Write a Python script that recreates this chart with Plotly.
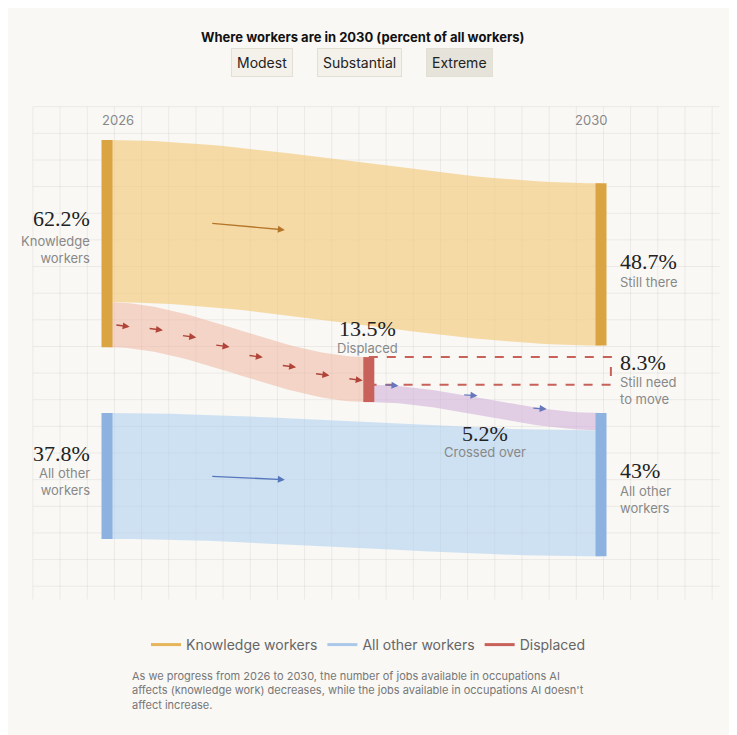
import numpy as np
import plotly.graph_objects as go

# ---- data (percent of all workers) ----
years = ["2026", "2030"]
knowledge_2026 = 62.2
other_2026 = 37.8
still_there = 48.7
displaced = 13.5
still_need_to_move = 8.3
crossed_over = 5.2
other_2030 = 43.0
scenarios = ["Modest", "Substantial", "Extreme"]

KC, KN = "rgba(242,200,118,0.62)", "#dba443"
BC, BN = "rgba(172,205,238,0.55)", "#8db2e0"
DC, DN = "rgba(238,182,160,0.55)", "#c8615a"
XC = "rgba(205,172,215,0.55)"

GAP = 19.8
X_MID = 0.53
kL = (0, knowledge_2026)
oL = (knowledge_2026 + GAP, knowledge_2026 + GAP + other_2026)
sR = (13.0, 13.0 + still_there)
dM = (sR[1] + 3.5, sR[1] + 3.5 + displaced)
nM = (dM[0], dM[0] + still_need_to_move)
cM = (nM[1], dM[1])
oR = (oL[0], oL[0] + other_2030)

fig = go.Figure()

gx, gy = [], []
for xv in np.arange(-0.15, 1.25, 0.055):
    gx += [xv, xv, None]; gy += [-10, 138, None]
for yv in np.arange(-10, 139, 8):
    gx += [-0.15, 1.24, None]; gy += [yv, yv, None]
fig.add_trace(go.Scatter(x=gx, y=gy, mode="lines", line=dict(color="rgba(0,0,0,0.06)", width=1),
                         hoverinfo="skip", showlegend=False))

t = np.linspace(0, 1, 40)
s = 3 * t**2 - 2 * t**3

def band(x0, x1, a, b, color):
    top = a[0] + (b[0] - a[0]) * s
    bot = a[1] + (b[1] - a[1]) * s
    xs = x0 + (x1 - x0) * t
    fig.add_trace(go.Scatter(x=np.r_[xs, xs[::-1]], y=np.r_[top, bot[::-1]], fill="toself",
                             fillcolor=color, line=dict(width=0), mode="lines",
                             hoverinfo="skip", showlegend=False))

band(0, 1, (0, still_there), sR, KC)
band(0, X_MID, (still_there, knowledge_2026), dM, DC)
band(0, 1, oL, (oR[0] + crossed_over, oR[1]), BC)
band(X_MID, 1, cM, (oR[0], oR[0] + crossed_over), XC)

fig.add_trace(go.Scatter(x=[X_MID, 1.02, 1.02, X_MID], y=[nM[0], nM[0], nM[1], nM[1]], mode="lines",
                         line=dict(color=DN, width=2, dash="dash"), hoverinfo="skip", showlegend=False))

def node(x, r, c):
    fig.add_trace(go.Scatter(x=[x, x], y=list(r), mode="lines", line=dict(color=c, width=11),
                             hoverinfo="skip", showlegend=False))
node(0, kL, KN); node(0, oL, BN); node(1, sR, KN); node(1, oR, BN); node(X_MID, dM, DN)

def arrow(x, y, dx, dy, c):
    fig.add_annotation(x=x + dx, y=y + dy, ax=x, ay=y, xref="x", yref="y", axref="x", ayref="y",
                       showarrow=True, arrowhead=2, arrowsize=1, arrowwidth=1.4, arrowcolor=c, text="")
arrow(0.21, 25, 0.15, 2, "#b5762a")
arrow(0.21, 101, 0.15, 1, "#5577bb")
for tt in np.linspace(0.03, 0.92, 8):
    ss = 3 * tt**2 - 2 * tt**3
    yc = (still_there + knowledge_2026) / 2 + ((dM[0] + dM[1]) / 2 - (still_there + knowledge_2026) / 2) * ss
    arrow(X_MID * tt, yc, 0.03, 0.6, "#b04438")
for xa, ya in [(0.56, 73.5), (0.72, 76.5), (0.86, 80.5)]:
    arrow(xa, ya, 0.03, 0.3, "#6677bb")

for name, c in [("Knowledge workers", "#e6b45a"), ("All other workers", "#a9c8ea"), ("Displaced", "#c8615a")]:
    fig.add_trace(go.Scatter(x=[None], y=[None], mode="lines", name=name, line=dict(color=c, width=3)))

def txt(x, y, text, size, color="#222", font="Liberation Serif", align="center", xanchor="center", yanchor="middle"):
    fig.add_annotation(x=x, y=y, xref="paper", yref="paper", text=text, showarrow=False, align=align,
                       font=dict(size=size, color=color, family=font), xanchor=xanchor, yanchor=yanchor)

W, H = 737.0, 735.0
OFF = 8
def P(px, py): return (px - OFF) / W, 1 - (py - OFF) / H
SANS = "Inter"
txt(*P(362, 37), "<b>Where workers are in 2030 (percent of all workers)</b>", 13, "#111", SANS)
for sc, px, bg in zip(scenarios, [262, 359, 459], ["#f3f1ea", "#f3f1ea", "#e5e3da"]):
    x, y = P(px, 72 - 24)
    fig.add_annotation(x=x, y=y, xref="paper", yref="paper", text=sc, showarrow=False,
                       font=dict(size=14, color="#222", family=SANS), bgcolor=bg, bordercolor="#e2dfd4",
                       borderwidth=1, borderpad=5)
txt(*P(118, 120), years[0], 13, "#888", SANS)
txt(*P(591, 120), years[1], 13, "#888", SANS)
G = "#888"
txt(*P(92, 218), f"{knowledge_2026}%", 22, "#222", xanchor="right")
txt(*P(92, 249), "Knowledge<br>workers", 13, G, SANS, "right", "right")
txt(*P(92, 453), f"{other_2026}%", 22, "#222", xanchor="right")
txt(*P(92, 482), "All other<br>workers", 13, G, SANS, "right", "right")
txt(*P(367, 328), f"{displaced}%", 22)
txt(*P(367, 348), "Displaced", 13, G, SANS)
txt(*P(618, 261), f"{still_there}%", 22, xanchor="left")
txt(*P(618, 282), "Still there", 13, G, SANS, "left", "left")
txt(*P(618, 362), f"{still_need_to_move}%", 22, xanchor="left")
txt(*P(618, 390), "Still need<br>to move", 13, G, SANS, "left", "left")
txt(*P(485, 433), f"{crossed_over}%", 22)
txt(*P(485, 452), "Crossed over", 13, G, SANS)
txt(*P(618, 470), f"{other_2030:g}%", 22, xanchor="left")
txt(*P(618, 499), "All other<br>workers", 13, G, SANS, "left", "left")
txt(*P(130, 690), "As we progress from 2026 to 2030, the number of jobs available in occupations AI<br>"
    "affects (knowledge work) decreases, while the jobs available in occupations AI doesn't<br>affect increase.",
    11, "#777", SANS, "left", "left")

# page offset of 8px: px = (107-8) + 494*x ; py = (140-8) + 3.33*y
X0, Y0 = 107 - OFF, 140 - OFF
fig.update_xaxes(range=[-X0 / 494, (W - X0) / 494], visible=False, fixedrange=True)
fig.update_yaxes(range=[(H - Y0) / 3.33, -Y0 / 3.33], visible=False, fixedrange=True)
fig.update_layout(width=737, height=735, margin=dict(l=0, r=0, t=0, b=0),
                  paper_bgcolor="#f9f8f5", plot_bgcolor="#f9f8f5",
                  legend=dict(orientation="h", x=0.5 - OFF / W, xanchor="center", y=1 - (645 - OFF) / H,
                              yanchor="middle", font=dict(size=14, color="#666", family=SANS),
                              bgcolor="rgba(0,0,0,0)"))
fig.write_html("out.html")
